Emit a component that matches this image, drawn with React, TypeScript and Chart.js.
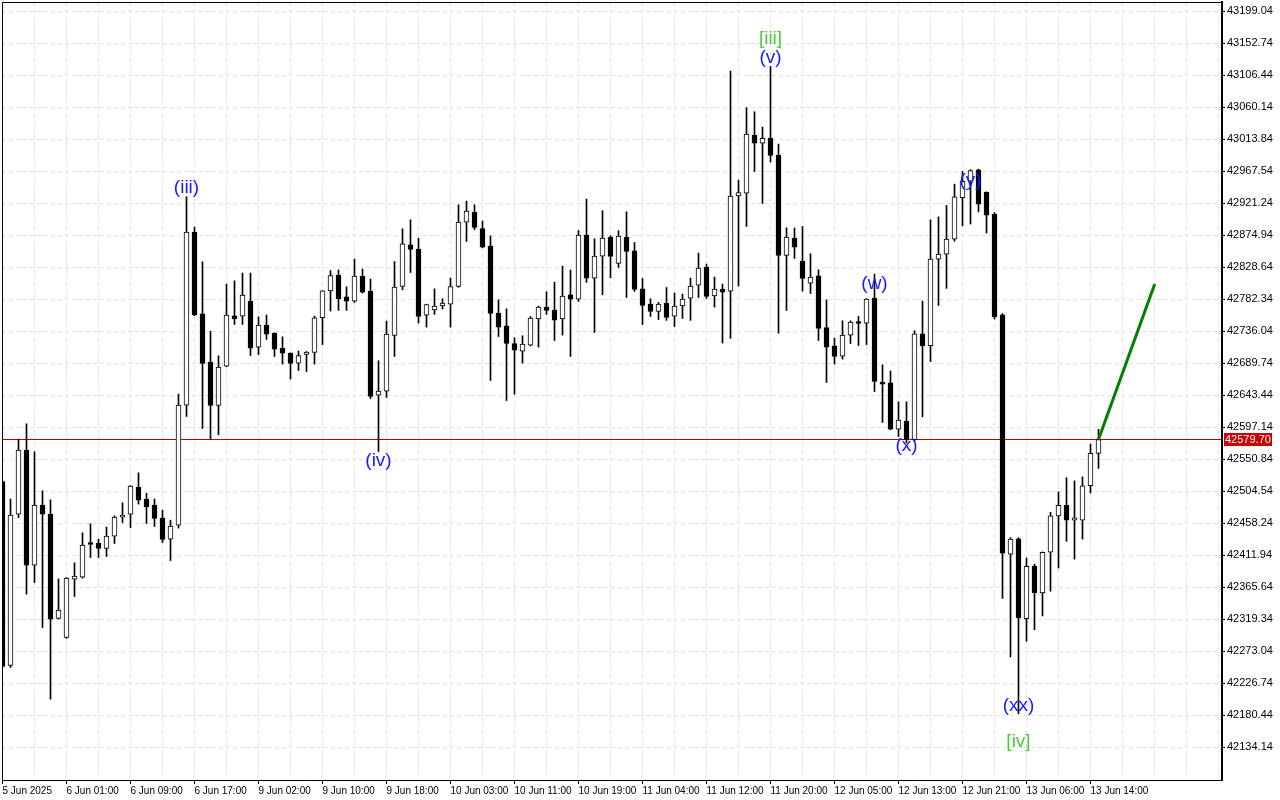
import React, { useEffect, useRef } from "react";
import { Chart, registerables } from "chart.js";

Chart.register(...registerables);

// Hourly candles, index 0 = 5 Jun 2025 17:00
const opens = [
  42518.9, 42252.7, 42471.7, 42564.3, 42397.9, 42484.8, 42471.7, 42320.7, 42293.2, 42377.7,
  42380.6, 42429.8, 42429.8, 42422.0, 42439.9, 42467.4, 42471.7, 42510.8, 42493.5, 42484.8,
  42466.0, 42435.6, 42455.8, 42629.5, 42879.8, 42761.6, 42691.7, 42628.9, 42685.9, 42758.7,
  42758.3, 42779.9, 42713.4, 42745.2, 42733.6, 42711.9, 42704.7, 42690.3, 42702.7, 42705.6,
  42755.8, 42794.8, 42817.5, 42786.0, 42780.0, 42816.1, 42794.4, 42643.9, 42649.7, 42730.2,
  42801.1, 42861.4, 42855.2, 42759.7, 42767.0, 42772.8, 42775.6, 42801.1, 42894.3, 42908.8,
  42885.0, 42859.6, 42762.6, 42744.2, 42718.6, 42707.6, 42716.3, 42754.0, 42771.3, 42767.0,
  42754.0, 42789.1, 42782.8, 42875.5, 42813.2, 42845.1, 42872.6, 42834.4, 42872.6, 42852.7,
  42797.7, 42775.6, 42764.9, 42777.1, 42758.3, 42772.8, 42784.3, 42803.1, 42829.2, 42787.5,
  42797.3, 42794.4, 42932.3, 42936.2, 43020.2, 43008.6, 43015.8, 42991.2, 42845.9, 42871.1,
  42837.8, 42806.0, 42816.6, 42741.8, 42715.3, 42700.4, 42730.8, 42749.6, 42748.1, 42784.3,
  42662.8, 42661.7, 42594.7, 42606.3, 42579.3, 42732.6, 42715.3, 42840.7, 42848.0, 42869.7,
  42929.6, 42953.4, 42970.0, 42937.4, 42905.8, 42760.1, 42413.9, 42436.1, 42320.4, 42396.3,
  42357.6, 42416.5, 42469.1, 42484.6, 42462.9, 42462.9, 42513.0, 42559.6,
];
const highs = [
  42520.0, 42493.5, 42580.3, 42602.4, 42561.9, 42505.5, 42492.4, 42378.1, 42380.0, 42401.3,
  42444.7, 42457.7, 42435.6, 42452.9, 42469.3, 42488.1, 42513.0, 42531.5, 42502.1, 42493.5,
  42477.5, 42463.0, 42645.4, 42930.9, 42887.0, 42836.8, 42736.5, 42700.8, 42804.5, 42809.3,
  42820.5, 42820.5, 42757.2, 42759.7, 42734.0, 42728.3, 42705.0, 42707.6, 42707.0, 42758.3,
  42795.0, 42824.2, 42825.0, 42800.6, 42840.7, 42826.3, 42811.8, 42693.6, 42751.0, 42837.2,
  42884.6, 42897.6, 42871.1, 42775.5, 42797.7, 42783.3, 42813.2, 42919.3, 42924.6, 42919.3,
  42895.7, 42874.4, 42781.8, 42768.8, 42726.8, 42729.8, 42757.7, 42772.8, 42793.4, 42807.4,
  42830.6, 42825.0, 42882.1, 42927.5, 42870.1, 42910.6, 42874.4, 42881.7, 42909.2, 42864.7,
  42812.6, 42783.3, 42778.0, 42799.6, 42791.5, 42790.0, 42813.2, 42849.4, 42833.5, 42814.7,
  42804.5, 43112.8, 42955.0, 43059.7, 43053.9, 43031.7, 43119.4, 43007.1, 42886.0, 42885.6,
  42887.9, 42848.4, 42825.2, 42781.8, 42726.4, 42751.4, 42751.4, 42757.7, 42783.5, 42819.0,
  42687.8, 42678.7, 42634.2, 42634.2, 42737.0, 42779.9, 42897.6, 42901.8, 42918.3, 42949.2,
  42967.4, 42970.0, 42971.0, 42938.0, 42908.0, 42762.0, 42437.6, 42437.6, 42408.2, 42399.4,
  42417.0, 42474.4, 42503.9, 42524.4, 42519.8, 42525.6, 42573.0, 42594.3,
];
const lows = [
  42250.0, 42249.8, 42466.8, 42356.0, 42372.8, 42307.6, 42204.0, 42319.8, 42292.0, 42352.5,
  42379.0, 42408.9, 42408.9, 42410.4, 42429.2, 42459.6, 42452.3, 42486.2, 42458.2, 42453.8,
  42430.7, 42404.6, 42451.5, 42613.0, 42758.7, 42595.6, 42580.3, 42586.5, 42685.0, 42746.1,
  42746.1, 42701.2, 42702.7, 42724.4, 42699.8, 42688.8, 42667.1, 42679.5, 42678.0, 42688.8,
  42717.1, 42765.5, 42766.5, 42766.5, 42778.0, 42791.5, 42639.0, 42562.3, 42640.5, 42699.8,
  42796.3, 42821.3, 42748.1, 42742.3, 42760.6, 42768.4, 42742.3, 42800.0, 42866.2, 42883.5,
  42857.0, 42665.1, 42728.7, 42636.1, 42645.4, 42690.3, 42715.0, 42713.4, 42760.6, 42722.9,
  42730.8, 42699.8, 42779.4, 42806.9, 42734.5, 42789.1, 42813.7, 42828.6, 42785.2, 42793.9,
  42746.1, 42757.7, 42753.3, 42752.0, 42743.2, 42754.8, 42752.0, 42785.2, 42783.7, 42771.3,
  42719.2, 42725.8, 42801.7, 42887.9, 42967.5, 42921.2, 42981.1, 42733.6, 42766.3, 42841.6,
  42794.4, 42791.0, 42722.9, 42662.2, 42688.8, 42696.0, 42718.6, 42715.7, 42717.1, 42649.1,
  42604.3, 42594.0, 42584.0, 42574.5, 42577.0, 42612.5, 42692.4, 42773.6, 42798.3, 42866.6,
  42888.8, 42891.4, 42909.0, 42878.5, 42754.0, 42349.8, 42265.1, 42182.8, 42287.8, 42304.3,
  42324.4, 42360.2, 42393.7, 42432.5, 42406.6, 42435.6, 42502.3, 42537.9,
];
const closes = [
  42251.2, 42470.3, 42564.3, 42397.9, 42484.8, 42471.7, 42319.8, 42332.8, 42379.1, 42382.0,
  42426.9, 42427.8, 42422.0, 42439.9, 42467.4, 42470.3, 42512.3, 42492.0, 42482.3, 42465.4,
  42435.0, 42454.4, 42629.5, 42879.8, 42760.1, 42689.7, 42628.9, 42684.5, 42759.7, 42754.0,
  42788.6, 42711.9, 42745.2, 42732.2, 42710.5, 42704.7, 42689.7, 42701.2, 42706.0, 42755.8,
  42794.8, 42817.0, 42783.3, 42780.0, 42816.1, 42793.0, 42641.9, 42649.7, 42732.2, 42800.2,
  42862.9, 42854.6, 42757.7, 42775.0, 42772.8, 42777.1, 42801.1, 42894.3, 42910.2, 42886.4,
  42858.1, 42762.0, 42742.3, 42718.6, 42709.0, 42717.7, 42755.3, 42771.3, 42766.4, 42752.5,
  42787.2, 42782.8, 42875.5, 42813.2, 42845.1, 42871.1, 42844.5, 42874.0, 42851.7, 42796.7,
  42773.6, 42764.9, 42775.6, 42756.2, 42772.8, 42782.8, 42801.7, 42827.7, 42786.6, 42797.3,
  42793.0, 42931.9, 42937.1, 43021.6, 43008.6, 43015.3, 42990.6, 42845.9, 42872.6, 42858.1,
  42812.6, 42814.7, 42740.3, 42713.4, 42699.8, 42730.8, 42749.6, 42747.5, 42782.8, 42663.6,
  42659.9, 42594.7, 42607.8, 42579.3, 42732.6, 42715.3, 42840.7, 42848.0, 42869.7, 42930.7,
  42953.4, 42968.9, 42920.3, 42904.2, 42757.1, 42415.4, 42435.6, 42321.4, 42396.3, 42357.6,
  42416.5, 42469.1, 42484.6, 42462.9, 42466.5, 42512.5, 42559.6, 42579.7,
];

// one time label every 8 candles
const xTickLabels = [
  "5 Jun 2025", "6 Jun 01:00", "6 Jun 09:00", "6 Jun 17:00", "9 Jun 02:00", "9 Jun 10:00",
  "9 Jun 18:00", "10 Jun 03:00", "10 Jun 11:00", "10 Jun 19:00", "11 Jun 04:00", "11 Jun 12:00",
  "11 Jun 20:00", "12 Jun 05:00", "12 Jun 13:00", "12 Jun 21:00", "13 Jun 06:00", "13 Jun 14:00",
];

const yTickValues = [
  42134.14, 42180.44, 42226.74, 42273.04, 42319.34, 42365.64, 42411.94, 42458.24,
  42504.54, 42550.84, 42597.14, 42643.44, 42689.74, 42736.04, 42782.34, 42828.64,
  42874.94, 42921.24, 42967.54, 43013.84, 43060.14, 43106.44, 43152.74, 43199.04,
];

const currentPrice = 42579.7;

const forecastX = [137, 144.03];
const forecastY = [42579.7, 42804.8];

const waveTexts = ["(iii)", "(iv)", "[iii]", "(v)", "(w)", "(x)", "(y)", "(xx)", "[iv]"];
const waveX = [23, 47, 96, 96, 109, 113, 121, 127, 127];
const waveY = [42943.7, 42548.7, 43159.3, 43131.8, 42804.8, 42570.4, 42953.8, 42194.9, 42142.1];
const waveColors = ["#1a1aff", "#1a1aff", "#4ec83a", "#1a1aff", "#1a1aff", "#1a1aff", "#1a1aff", "#1a1aff", "#4ec83a"];

const X_MIN = -0.0625;
const X_MAX = 152.4375;
const Y_MIN = 42087.03;
const Y_MAX = 43212.7;

const FONT_FAMILY = "'Liberation Sans', Arial, sans-serif";

export default function App() {
  const canvasRef = useRef<HTMLCanvasElement | null>(null);

  useEffect(() => {
    const canvas = canvasRef.current;
    if (!canvas) return;
    const idx = opens.map((_, i) => i);
    const bodies = idx.map((i) => ({ x: i, y: [Math.min(opens[i], closes[i]), Math.max(opens[i], closes[i])] }));
    const wicks = idx.map((i) => ({
      x: i,
      y: [Math.min(lows[i], opens[i], closes[i]), Math.max(highs[i], opens[i], closes[i])],
    }));
    const bodyColors = idx.map((i) => (closes[i] >= opens[i] ? "#ffffff" : "#000000"));
    const gridIdx: number[] = [];
    for (let v = 0; v <= 152; v += 4) gridIdx.push(v);
    const hasLabel = (v: number) => v % 8 === 0 && v / 8 < xTickLabels.length;

    const framePlugin = {
      id: "frame",
      afterDraw(chart: any) {
        const { ctx, chartArea } = chart;
        ctx.save();
        ctx.strokeStyle = "#000";
        ctx.lineWidth = 1;
        ctx.beginPath();
        ctx.moveTo(chartArea.left + 0.5, chartArea.bottom);
        ctx.lineTo(chartArea.left + 0.5, chartArea.top + 0.5);
        ctx.lineTo(chartArea.right, chartArea.top + 0.5);
        ctx.stroke();
        // current price tag on the axis
        const yS = chart.scales.y;
        const py = Math.round(yS.getPixelForValue(currentPrice));
        ctx.fillStyle = "#c80000";
        ctx.fillRect(chartArea.right + 2, py - 6, 48, 13);
        ctx.fillStyle = "#ffffff";
        ctx.font = "11px " + FONT_FAMILY;
        ctx.textAlign = "left";
        ctx.textBaseline = "middle";
        ctx.fillText(currentPrice.toFixed(2), chartArea.right + 3, py + 1);
        ctx.restore();
      },
      afterDatasetsDraw(chart: any) {
        const { ctx } = chart;
        const xS = chart.scales.x;
        const yS = chart.scales.y;
        ctx.save();
        ctx.font = "19px " + FONT_FAMILY;
        ctx.textAlign = "center";
        ctx.textBaseline = "middle";
        waveTexts.forEach((t, i) => {
          ctx.fillStyle = waveColors[i];
          ctx.fillText(t, xS.getPixelForValue(waveX[i]), yS.getPixelForValue(waveY[i]));
        });
        ctx.restore();
      },
    };

    const chart = new Chart(canvas, {
      type: "bar",
      data: {
        datasets: [
          {
            type: "line",
            data: [
              { x: X_MIN, y: currentPrice },
              { x: X_MAX, y: currentPrice },
            ],
            borderColor: "#b00000",
            borderWidth: 1,
            pointRadius: 0,
            order: 5,
          } as any,
          {
            type: "bar",
            data: wicks as any,
            backgroundColor: "#000000",
            borderWidth: 0,
            barThickness: 1,
            grouped: false,
            order: 3,
          } as any,
          {
            type: "bar",
            data: bodies as any,
            backgroundColor: bodyColors,
            borderColor: "#000000",
            borderWidth: 1,
            borderSkipped: false,
            barThickness: 5,
            minBarLength: 2,
            grouped: false,
            order: 2,
          } as any,
          {
            type: "line",
            data: forecastX.map((x, i) => ({ x, y: forecastY[i] })),
            borderColor: "#008000",
            borderWidth: 3,
            pointRadius: 0,
            order: 1,
          } as any,
        ],
      },
      options: {
        responsive: false,
        animation: false,
        devicePixelRatio: 1,
        layout: { padding: { left: 2, top: 2, right: 0, bottom: 0 } },
        plugins: { legend: { display: false }, tooltip: { enabled: false } },
        scales: {
          x: {
            type: "linear",
            position: "bottom",
            min: X_MIN,
            max: X_MAX,
            offset: false,
            afterBuildTicks: (axis: any) => {
              axis.ticks = gridIdx.map((v) => ({ value: v }));
            },
            afterFit: (axis: any) => {
              axis.height = 20;
              axis.paddingLeft = 0;
              axis.paddingRight = 0;
            },
            ticks: {
              autoSkip: false,
              maxRotation: 0,
              minRotation: 0,
              align: "start",
              padding: 1,
              color: "#000",
              font: { family: FONT_FAMILY, size: 10 },
              callback: (value: any) => {
                const v = Math.round(Number(value));
                return hasLabel(v) ? xTickLabels[v / 8] : "";
              },
            },
            grid: {
              offset: false,
              color: "#e2e2e2",
              lineWidth: 1,
              drawTicks: true,
              tickLength: 4,
              tickWidth: 1,
              tickBorderDash: [],
              tickColor: (c: any) =>
                c.tick && hasLabel(Math.round(c.tick.value)) ? "#000000" : "rgba(0,0,0,0)",
            },
            border: { display: true, color: "#000", width: 1, dash: [4, 3] },
          } as any,
          y: {
            type: "linear",
            position: "right",
            min: Y_MIN,
            max: Y_MAX,
            afterBuildTicks: (axis: any) => {
              axis.ticks = yTickValues.map((v) => ({ value: v }));
            },
            afterFit: (axis: any) => {
              axis.width = 58;
              axis.paddingTop = 0;
              axis.paddingBottom = 0;
            },
            ticks: {
              autoSkip: false,
              padding: 2,
              color: "#000",
              font: { family: FONT_FAMILY, size: 11 },
              crossAlign: "near",
              callback: (value: any) => Number(value).toFixed(2),
            },
            grid: {
              color: "#e2e2e2",
              lineWidth: 1,
              drawTicks: true,
              tickLength: 3,
              tickWidth: 1,
              tickColor: "#000",
              tickBorderDash: [],
            },
            border: { display: true, color: "#000", width: 2, dash: [4, 3] },
          } as any,
        },
      } as any,
      plugins: [framePlugin],
    });

    return () => chart.destroy();
  }, []);

  return (
    <div style={{ position: "fixed", left: 0, top: 0, width: 1280, height: 800, background: "#fff" }}>
      <canvas ref={canvasRef} width={1280} height={800} style={{ display: "block", width: 1280, height: 800 }} />
    </div>
  );
}
